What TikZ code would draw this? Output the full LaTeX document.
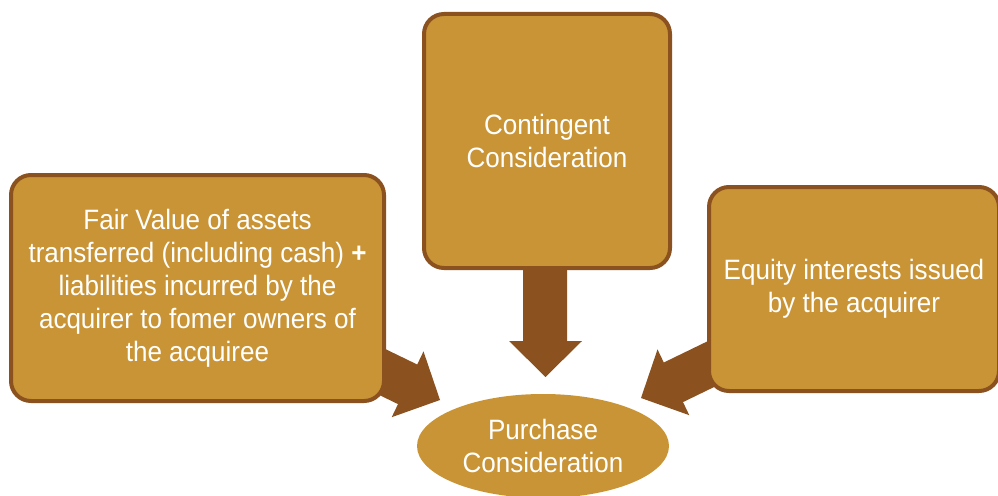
\documentclass[tikz,border=0pt]{standalone}
\usepackage{fontspec}
\setmainfont{Liberation Sans}[FakeStretch=0.93]
\usetikzlibrary{shapes.geometric}
\definecolor{gold}{RGB}{201,148,53}
\definecolor{brownline}{RGB}{139,82,32}
\begin{document}
\begin{tikzpicture}[x=1pt,y=-1pt,
  box/.style={draw=brownline, line width=4pt, fill=gold, rounded corners=20pt,
    text=white, align=center, font=\fontsize{28}{33}\selectfont, inner sep=0pt},
  oval/.style={ellipse, fill=gold, draw=none, text=white, align=center,
    font=\fontsize{28}{33}\selectfont, inner sep=0pt},
  blockarrow/.style={fill=brownline, draw=none}]
\useasboundingbox (0,0) rectangle (998,495);
\clip (0,0) rectangle (998,495);
% block arrows
\fill[blockarrow] (523,250) -- (567,250) -- (567,341) -- (582,341) -- (545.5,377)
  -- (509,341) -- (523,341) -- cycle;
\fill[blockarrow] (344.0,377.9) -- (398.0,404.1) -- (391.7,417.2) -- (440,400)
  -- (423.5,351.4) -- (417.2,364.5) -- (363.2,338.3) -- cycle;
\fill[blockarrow] (737.0,375.9) -- (683.0,402.1) -- (689.3,415.2) -- (641,398)
  -- (657.5,349.4) -- (663.8,362.5) -- (717.8,336.3) -- cycle;
% boxes
\node[box, minimum width=373pt, minimum height=226pt] (fv) at (197.5,288)
  {Fair Value of assets\\ transferred (including cash) \textbf{+}\\ liabilities incurred by the\\ acquirer to fomer owners of\\ the acquiree};
\node[box, minimum width=246pt, minimum height=254pt] (cc) at (547,141)
  {Contingent\\ Consideration};
\node[box, minimum width=290pt, minimum height=204pt] (eq) at (854,289)
  {Equity interests issued\\ by the acquirer};
\node[oval, minimum width=252pt, minimum height=104pt] (pc) at (543,446)
  {Purchase\\ Consideration};
\end{tikzpicture}
\end{document}
